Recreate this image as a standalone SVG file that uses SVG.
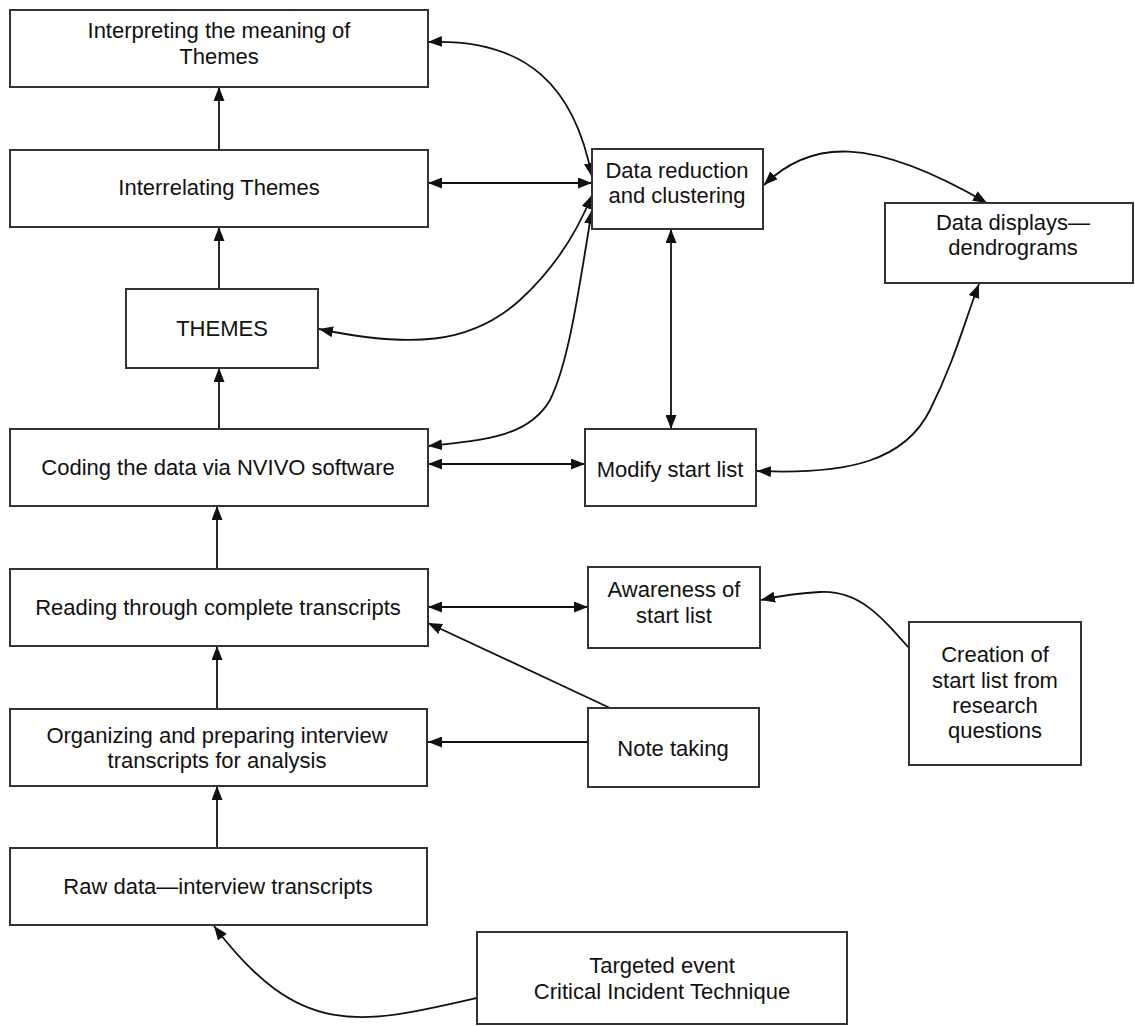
<svg xmlns="http://www.w3.org/2000/svg" width="1135" height="1026" viewBox="0 0 1135 1026">
  <defs>
    <marker id="arrow" viewBox="0 0 14 11" refX="14" refY="5.5" markerWidth="14" markerHeight="11" markerUnits="userSpaceOnUse" orient="auto-start-reverse">
      <path d="M0,0 L14,5.5 L0,11 z" fill="#111"/>
    </marker>
    <style>
      .box { fill: #fff; stroke: #333; stroke-width: 2; }
      .lbl { font-family: "Liberation Sans", Arial, sans-serif; font-size: 22px; fill: #111; text-anchor: middle; }
      .con { fill: none; stroke: #111; stroke-width: 1.8; }
      .one { marker-end: url(#arrow); }
      .two { marker-start: url(#arrow); marker-end: url(#arrow); }
    </style>
  </defs>
  <rect width="1135" height="1026" fill="#fff"/>

  <!-- connectors -->
  <g id="connectors">
    <!-- main vertical flow -->
    <path class="con one" d="M219,150 V87"/>
    <path class="con one" d="M219,289 V227"/>
    <path class="con one" d="M219,429 V368"/>
    <path class="con one" d="M217,569 V506"/>
    <path class="con one" d="M217,708 V646"/>
    <path class="con one" d="M217,848 V786"/>
    <!-- targeted event into raw data -->
    <path class="con one" d="M477,998 C360,1025 300,1040 214,926"/>
    <!-- links with data reduction -->
    <path class="con two" d="M428,42 C528,38 575,88 592,177"/>
    <path class="con two" d="M428,183 H592"/>
    <path class="con two" d="M319,329 C410,348 470,345 520,300 C555,268 578,230 592,195"/>
    <path class="con two" d="M428,446 C490,440 530,435 550,400 C570,360 580,280 592,210"/>
    <path class="con two" d="M428,464 H585"/>
    <path class="con two" d="M671,229 V429"/>
    <!-- data displays -->
    <path class="con two" d="M764,185 C810,140 870,135 987,203"/>
    <path class="con two" d="M757,471 C850,475 905,460 930,410 C955,360 965,320 979,284"/>
    <!-- start list and notes -->
    <path class="con two" d="M428,607 H588"/>
    <path class="con one" d="M610,708 L428,623"/>
    <path class="con one" d="M588,742 H428"/>
    <path class="con one" d="M909,648 C880,615 858,590 820,592 C795,593 775,597 761,600"/>
  </g>

  <!-- nodes -->
  <g id="interpreting">
    <rect class="box" x="10" y="10" width="418" height="77"/>
    <text class="lbl" x="219" y="38">Interpreting the meaning of</text>
    <text class="lbl" x="219" y="64">Themes</text>
  </g>
  <g id="interrelating">
    <rect class="box" x="10" y="150" width="418" height="77"/>
    <text class="lbl" x="219" y="195">Interrelating Themes</text>
  </g>
  <g id="themes">
    <rect class="box" x="126" y="289" width="192" height="79"/>
    <text class="lbl" x="222" y="336">THEMES</text>
  </g>
  <g id="coding">
    <rect class="box" x="10" y="429" width="418" height="77"/>
    <text class="lbl" x="218" y="475">Coding the data via NVIVO software</text>
  </g>
  <g id="reading">
    <rect class="box" x="10" y="569" width="418" height="77"/>
    <text class="lbl" x="218" y="615">Reading through complete transcripts</text>
  </g>
  <g id="organizing">
    <rect class="box" x="10" y="709" width="417" height="77"/>
    <text class="lbl" x="217" y="743">Organizing and preparing interview</text>
    <text class="lbl" x="217" y="768">transcripts for analysis</text>
  </g>
  <g id="raw-data">
    <rect class="box" x="10" y="848" width="417" height="77"/>
    <text class="lbl" x="218" y="894">Raw data—interview transcripts</text>
  </g>
  <g id="targeted-event">
    <rect class="box" x="477" y="932" width="370" height="92"/>
    <text class="lbl" x="662" y="973">Targeted event</text>
    <text class="lbl" x="662" y="999">Critical Incident Technique</text>
  </g>
  <g id="data-reduction">
    <rect class="box" x="592" y="149" width="171" height="80"/>
    <text class="lbl" x="677" y="178">Data reduction</text>
    <text class="lbl" x="677" y="203">and clustering</text>
  </g>
  <g id="data-displays">
    <rect class="box" x="885" y="203" width="248" height="80"/>
    <text class="lbl" x="1013" y="230">Data displays—</text>
    <text class="lbl" x="1013" y="255">dendrograms</text>
  </g>
  <g id="modify-start-list">
    <rect class="box" x="585" y="429" width="171" height="77"/>
    <text class="lbl" x="670" y="477">Modify start list</text>
  </g>
  <g id="awareness">
    <rect class="box" x="588" y="567" width="172" height="81"/>
    <text class="lbl" x="674" y="597">Awareness of</text>
    <text class="lbl" x="674" y="623">start list</text>
  </g>
  <g id="note-taking">
    <rect class="box" x="588" y="708" width="171" height="79"/>
    <text class="lbl" x="673" y="756">Note taking</text>
  </g>
  <g id="creation">
    <rect class="box" x="909" y="622" width="172" height="143"/>
    <text class="lbl" x="995" y="662">Creation of</text>
    <text class="lbl" x="995" y="688">start list from</text>
    <text class="lbl" x="995" y="713">research</text>
    <text class="lbl" x="995" y="738">questions</text>
  </g>
</svg>
